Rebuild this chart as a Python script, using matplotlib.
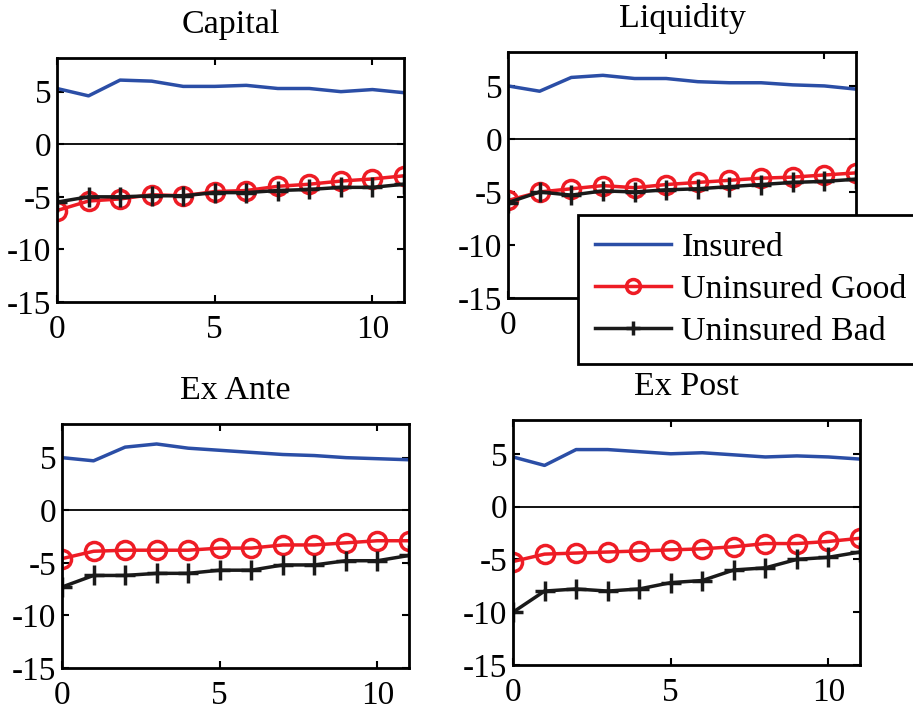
import matplotlib
matplotlib.use('Agg')
import matplotlib.pyplot as plt
import numpy as np

plt.rcParams['font.family'] = ['Liberation Serif', 'DejaVu Serif']
plt.rcParams['axes.unicode_minus'] = False

periods = np.arange(12)
titles = ['Capital', 'Liquidity', 'Ex Ante', 'Ex Post']
series_names = ['Insured', 'Uninsured Good', 'Uninsured Bad']

insured = [
    [5.3, 4.6, 6.1, 6.0, 5.5, 5.5, 5.6, 5.3, 5.3, 5.0, 5.2, 4.9],
    [5.0, 4.5, 5.8, 6.0, 5.7, 5.7, 5.4, 5.3, 5.3, 5.1, 5.0, 4.7],
    [5.0, 4.7, 6.0, 6.3, 5.9, 5.7, 5.5, 5.3, 5.2, 5.0, 4.9, 4.8],
    [4.7, 3.9, 5.4, 5.4, 5.2, 5.0, 5.1, 4.9, 4.7, 4.8, 4.7, 4.5],
]
uninsured_good = [
    [-6.3, -5.4, -5.2, -4.8, -4.9, -4.5, -4.4, -4.0, -3.8, -3.5, -3.3, -3.0],
    [-5.8, -5.0, -4.7, -4.4, -4.6, -4.3, -4.1, -3.9, -3.7, -3.6, -3.4, -3.2],
    [-4.6, -3.9, -3.8, -3.8, -3.8, -3.6, -3.6, -3.3, -3.3, -3.1, -2.9, -2.9],
    [-5.2, -4.5, -4.4, -4.3, -4.2, -4.1, -4.0, -3.8, -3.5, -3.5, -3.3, -3.0],
]
uninsured_bad = [
    [-5.5, -5.0, -5.0, -4.9, -4.9, -4.6, -4.6, -4.4, -4.3, -4.1, -4.1, -3.8],
    [-6.0, -5.0, -5.3, -4.9, -5.0, -4.8, -4.7, -4.5, -4.3, -4.1, -4.0, -3.8],
    [-7.3, -6.2, -6.2, -6.0, -6.0, -5.7, -5.7, -5.2, -5.2, -4.8, -4.8, -4.3],
    [-10.0, -8.0, -7.8, -8.0, -7.8, -7.2, -7.0, -6.0, -5.8, -5.0, -4.8, -4.3],
]

W, H = 913, 711
fig = plt.figure(figsize=(W / 100, H / 100), dpi=100)

# axes boxes in pixels: left, top, right, bottom
boxes = [(57, 58, 404, 302), (508, 52, 856, 298),
         (62, 424, 409, 668), (513, 420, 860, 665)]

for i, (l, t, r, b) in enumerate(boxes):
    ax = fig.add_axes([l / W, 1 - b / H, (r - l) / W, (b - t) / H])
    ax.axhline(0, color='black', lw=1.3, zorder=1)
    ax.plot(periods, insured[i], color='#2b4ea6', lw=2.5, label=series_names[0])
    ax.plot(periods, uninsured_good[i], color='#ee1c25', lw=2.5, marker='o',
            ms=13, mfc='none', mec='#ee1c25', mew=2.5, label=series_names[1])
    ax.plot(periods, uninsured_bad[i], color='#1a1a1a', lw=2.5, marker='+',
            ms=14, mew=2.5, label=series_names[2])
    ax.set_xlim(0, 11)
    ax.set_ylim(-15, 8.2)
    ax.set_xticks([0, 5, 10])
    ax.set_yticks([-15, -10, -5, 0, 5])
    ax.tick_params(direction='in', length=5, width=1.5, labelsize=24,
                   top=True, right=True)
    ax.tick_params(axis='x', pad=9)
    ax.tick_params(axis='y', pad=4)
    for s in ax.spines.values():
        s.set_linewidth(2)
    ax.set_title(titles[i], fontsize=24.5, y=1.0, pad=18)
    if i == 1:
        handles, labels = ax.get_legend_handles_labels()

leg = fig.legend(handles, labels, loc='upper left',
                 bbox_to_anchor=(578 / W, 1 - 215 / H), borderaxespad=0,
                 fontsize=24.5, frameon=True, fancybox=False,
                 edgecolor='black', framealpha=1, handlelength=2.24,
                 borderpad=0.5, labelspacing=0.33, handletextpad=0.3)
leg.get_frame().set_linewidth(2)
for h in leg.legend_handles:
    h.set_markersize(10)

fig.savefig('out.png', dpi=100)
